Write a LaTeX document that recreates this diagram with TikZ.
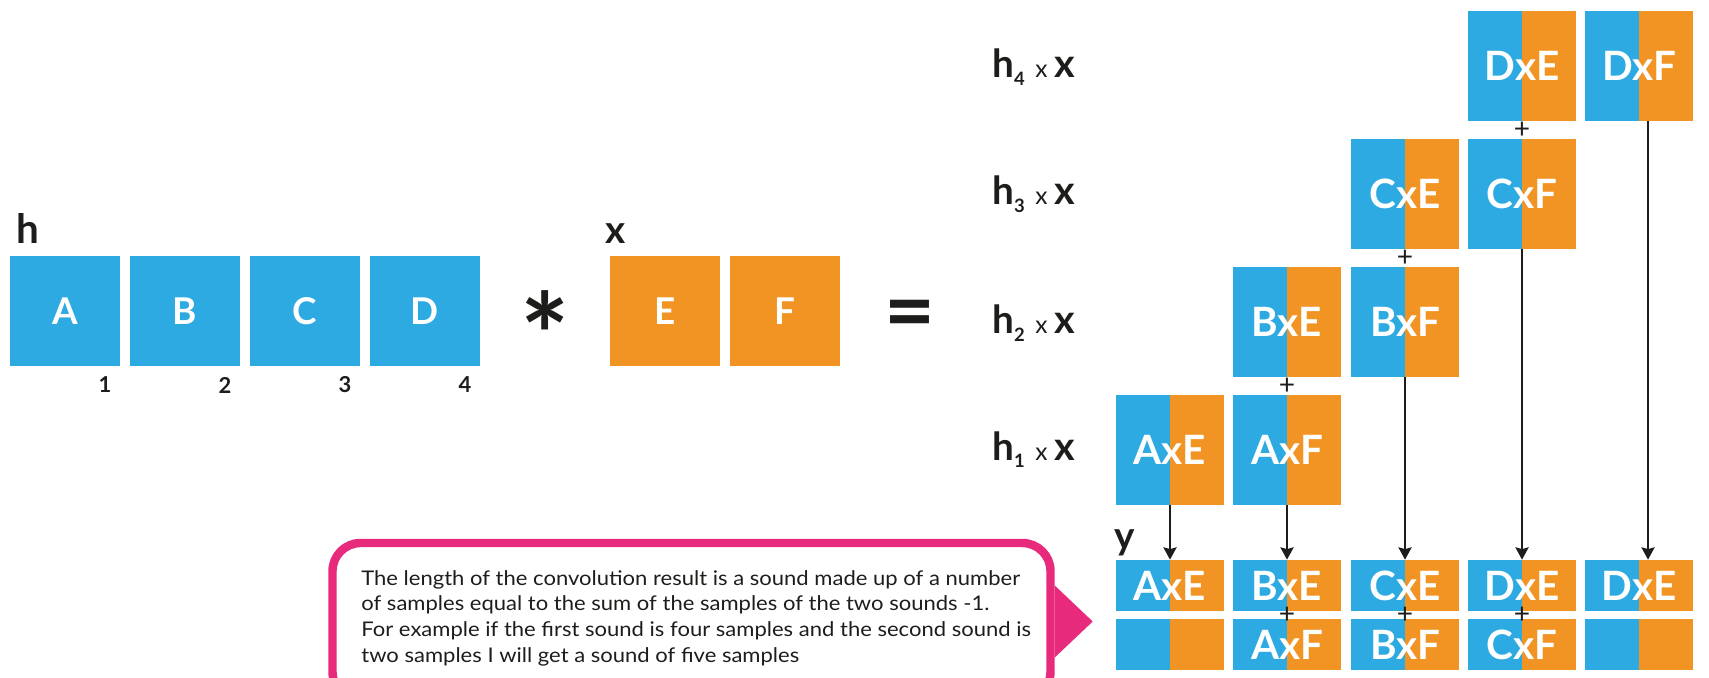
\documentclass[tikz,border=0pt]{standalone}
\usepackage{fontspec}
\setmainfont{Lato}
\newfontfamily\notefont{Lato}[FakeStretch=1.09]
\usetikzlibrary{arrows.meta}
\definecolor{hblue}{HTML}{2EAAE2}
\definecolor{xorange}{HTML}{F29423}
\definecolor{pinkc}{HTML}{E72A7C}
\definecolor{darktxt}{HTML}{1D1D1B}
\def\pxu{0.02cm}
\newcommand{\hxlabel}[1]{{\fontsize{22pt}{26pt}\selectfont\bfseries h}\raisebox{-4.3pt}{\fontsize{10.5pt}{12pt}\selectfont\bfseries #1}\hspace{6pt}{\fontsize{14pt}{16pt}\selectfont x}\hspace{4pt}{\fontsize{22.5pt}{26pt}\selectfont\bfseries x}}
\begin{document}
\begin{tikzpicture}[x=0.02cm,y=-0.02cm,
  hbox/.style={fill=hblue, minimum width=110*\pxu, minimum height=110*\pxu, inner sep=0, text=white, font=\fontsize{21pt}{24pt}\selectfont\bfseries},
  xbox/.style={hbox, fill=xorange},
  prod/.style={fill=xorange, minimum width=108*\pxu, minimum height=110*\pxu, inner sep=0, text=white, font=\fontsize{23pt}{26pt}\selectfont\bfseries,
    path picture={\fill[hblue] (path picture bounding box.north west) rectangle (path picture bounding box.south);}},
  prodlow/.style={prod, minimum height=51*\pxu},
  bigsym/.style={text=darktxt, inner sep=0, font=\bfseries},
  numlbl/.style={text=darktxt, inner sep=0, font=\fontsize{12.5pt}{14pt}\selectfont\bfseries},
  rowlbl/.style={text=darktxt, inner sep=0, anchor=base west},
  plussign/.style={text=darktxt, inner sep=0, font=\fontsize{16pt}{20pt}\selectfont},
  arr/.style={draw=darktxt, line width=1.1pt, -{Stealth[length=7pt,width=7.5pt,inset=1pt]}}
]
\useasboundingbox (0,0) rectangle (1709,678);
\clip (0,0) rectangle (1709,678);

% left: h and x
\node[bigsym, anchor=base west, font=\fontsize{23pt}{26pt}\selectfont\bfseries] (hlab) at (16,244) {h};
\node[hbox] (A) at (65,311) {A};
\node[hbox] (B) at (185,311) {B};
\node[hbox] (C) at (305,311) {C};
\node[hbox] (D) at (425,311) {D};
\node[numlbl] (n1) at (105,385) {1};
\node[numlbl] (n2) at (225,385) {2};
\node[numlbl] (n3) at (345,385) {3};
\node[numlbl] (n4) at (465,385) {4};
\node[bigsym, font=\fontsize{66pt}{66pt}\selectfont\bfseries] (ast) at (545,335) {*};
\node[bigsym, anchor=base west, font=\fontsize{22pt}{26pt}\selectfont\bfseries] (xlab) at (605,244) {x};
\node[xbox] (E) at (665,311) {E};
\node[xbox] (F) at (785,311) {F};
\node[bigsym, font=\fontsize{50pt}{50pt}\selectfont\bfseries] (eq) at (910,321) {=};

% row labels
\node[rowlbl] (l4) at (992,78) {\hxlabel{4}};
\node[rowlbl] (l3) at (992,205) {\hxlabel{3}};
\node[rowlbl] (l2) at (992,334) {\hxlabel{2}};
\node[rowlbl] (l1) at (992,460) {\hxlabel{1}};

% products
\node[prod] (dxe) at (1522,66) {DxE};
\node[prod] (dxf) at (1639,66) {DxF};
\node[prod] (cxe) at (1405,194) {CxE};
\node[prod] (cxf) at (1522,194) {CxF};
\node[prod] (bxe) at (1287,322) {BxE};
\node[prod] (bxf) at (1405,322) {BxF};
\node[prod] (axe) at (1170,450) {AxE};
\node[prod] (axf) at (1287,450) {AxF};

\node[plussign] (p1) at (1522,130) {+};
\node[plussign] (p2) at (1405,258) {+};
\node[plussign] (p3) at (1287,386) {+};

% result y
\node[rowlbl, font=\fontsize{22pt}{26pt}\selectfont\bfseries] (ylab) at (1114,549) {y};
\node[prodlow] (r1c0) at (1170,585.5) {AxE};
\node[prodlow] (r1c1) at (1287,585.5) {BxE};
\node[prodlow] (r1c2) at (1405,585.5) {CxE};
\node[prodlow] (r1c3) at (1522,585.5) {DxE};
\node[prodlow] (r1c4) at (1639,585.5) {DxE};
\node[prodlow] (r2c0) at (1170,644.5) {};
\node[prodlow] (r2c1) at (1287,644.5) {AxF};
\node[prodlow] (r2c2) at (1405,644.5) {BxF};
\node[prodlow] (r2c3) at (1522,644.5) {CxF};
\node[prodlow] (r2c4) at (1639,644.5) {};
\node[plussign] (q1) at (1287,615) {+};
\node[plussign] (q2) at (1405,615) {+};
\node[plussign] (q3) at (1522,615) {+};

\draw[arr] (axe.south) -- (r1c0.north);
\draw[arr] (axf.south) -- (r1c1.north);
\draw[arr] (bxf.south) -- (r1c2.north);
\draw[arr] (cxf.south) -- (r1c3.north);
\draw[arr] ([xshift=9*\pxu]dxf.south) -- ([xshift=9*\pxu]r1c4.north);

% callout
\node[draw=pinkc, line width=4.8pt, rounded corners=16pt, minimum width=718*\pxu, minimum height=157*\pxu, inner sep=0] (note) at (691.5,621.5) {};
\fill[pinkc] ([yshift=36*\pxu]note.east) -- ([xshift=38*\pxu]note.east) -- ([yshift=-36*\pxu]note.east) -- cycle;
\node[anchor=west, inner sep=0, align=left, text=darktxt, font=\notefont\fontsize{11.5pt}{14.6pt}\selectfont] (notetext) at (361,618)
 {The length of the convolution result is a sound made up of a number\\
  of samples equal to the sum of the samples of the two sounds -1.\\
  For example if the first sound is four samples and the second sound is\\
  two samples I will get a sound of five samples};
\end{tikzpicture}
\end{document}
